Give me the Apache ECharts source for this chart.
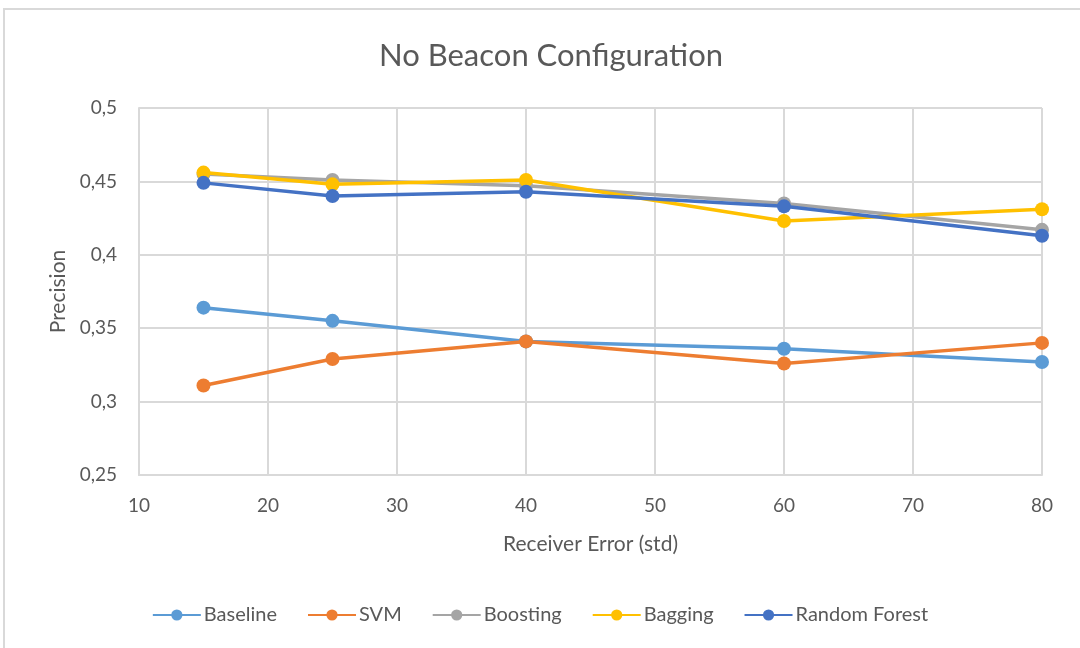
<!DOCTYPE html>
<html>
<head>
<meta charset="utf-8">
<script src="https://cdn.jsdelivr.net/npm/echarts@6/dist/echarts.min.js"></script>
<style>
html,body{margin:0;padding:0;background:#fff;}
#chart{width:1080px;height:648px;}
</style>
</head>
<body>
<div id="chart"></div>
<script>
var xValues = [15, 25, 40, 60, 80];
var seriesNames = ['Baseline', 'SVM', 'Boosting', 'Bagging', 'Random Forest'];
var baseline = [0.364, 0.355, 0.341, 0.336, 0.327];
var svm = [0.311, 0.329, 0.341, 0.326, 0.340];
var boosting = [0.455, 0.451, 0.447, 0.435, 0.417];
var bagging = [0.456, 0.448, 0.451, 0.423, 0.431];
var randomForest = [0.449, 0.440, 0.443, 0.433, 0.413];
var colors = ['#5B9BD5', '#ED7D31', '#A5A5A5', '#FFC000', '#4472C4'];

var allValues = [baseline, svm, boosting, bagging, randomForest];
var FONT = 'Lato, "Open Sans", sans-serif';
var TXT = '#595959';

var chart = echarts.init(document.getElementById('chart'));
var series = seriesNames.map(function (name, i) {
  return {
    name: name,
    type: 'line',
    data: xValues.map(function (x, j) { return [x, allValues[i][j]]; }),
    symbol: 'circle',
    symbolSize: 14,
    lineStyle: { width: 3.5, color: colors[i] },
    itemStyle: { color: colors[i] },
    z: 2 + i,
    animation: false
  };
});

chart.setOption({
  animation: false,
  backgroundColor: '#fff',
  graphic: [{
    type: 'rect',
    shape: { x: 4, y: 9, width: 1090, height: 660 },
    style: { fill: 'none', stroke: '#d9d9d9', lineWidth: 2 },
    silent: true
  }],
  title: {
    text: 'No Beacon Configuration',
    left: 546,
    textAlign: 'center',
    top: 35,
    textStyle: { fontFamily: FONT, fontSize: 31, fontWeight: 'normal', color: TXT }
  },
  legend: {
    data: seriesNames,
    bottom: 18,
    left: 'center',
    itemWidth: 48,
    itemHeight: 14,
    itemGap: 30,
    textStyle: { fontFamily: FONT, fontSize: 20, color: TXT, padding: [0, 0, 0, -2] }
  },
  grid: { left: 139, right: 38, top: 108, bottom: 173, containLabel: false },
  xAxis: {
    type: 'value',
    min: 10, max: 80, interval: 10,
    name: 'Receiver Error (std)',
    nameLocation: 'middle',
    nameGap: 59,
    nameTextStyle: { fontFamily: FONT, fontSize: 21, color: TXT },
    axisLine: { show: true, lineStyle: { color: '#d9d9d9', width: 2 } },
    axisTick: { show: false },
    axisLabel: { fontFamily: FONT, fontSize: 19, color: TXT, margin: 21 },
    splitLine: { show: true, lineStyle: { color: '#d9d9d9', width: 2 } }
  },
  yAxis: {
    type: 'value',
    min: 0.25, max: 0.5, interval: 0.05,
    name: 'Precision',
    nameLocation: 'middle',
    nameGap: 70,
    nameTextStyle: { fontFamily: FONT, fontSize: 21, color: TXT },
    axisLine: { show: true, lineStyle: { color: '#d9d9d9', width: 2 } },
    axisTick: { show: false },
    axisLabel: {
      fontFamily: FONT, fontSize: 19, color: TXT, margin: 22,
      formatter: function (v) { return String(Math.round(v * 100) / 100).replace('.', ','); }
    },
    splitLine: { show: true, lineStyle: { color: '#d9d9d9', width: 2 } }
  },
  series: series
});
</script>
</body>
</html>
